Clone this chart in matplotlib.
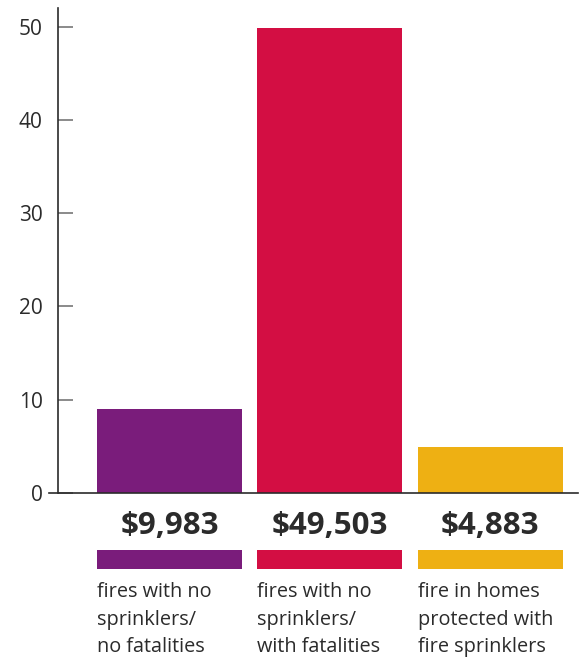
import matplotlib
matplotlib.use("Agg")
import matplotlib.pyplot as plt

plt.rcParams['font.family'] = ['Open Sans', 'DejaVu Sans']

categories = ["fires with no\nsprinklers/\nno fatalities",
              "fires with no\nsprinklers/\nwith fatalities",
              "fire in homes\nprotected with\nfire sprinklers"]
values = [9.0, 49.9, 4.9]
cost_labels = ["$9,983", "$49,503", "$4,883"]
colors = ["#7a1c7b", "#d30e43", "#eeb013"]
yticks = [0, 10, 20, 30, 40, 50]

text_color = "#2b2b2b"

fig = plt.figure(figsize=(5.8, 6.58), dpi=100)
ax = fig.add_axes([0.1, 0.2508, 0.897, 0.737])

x = range(len(values))
width = 0.906
ax.bar(x, values, width=width, color=colors, zorder=2)

ax.set_xlim(-0.697, 2.55)
ax.set_ylim(0, 52)

ax.spines['top'].set_visible(False)
ax.spines['right'].set_visible(False)
ax.spines['bottom'].set_visible(False)
ax.spines['left'].set_color(text_color)
ax.spines['left'].set_linewidth(1.2)

ax.set_xticks([])
ax.set_yticks(yticks)
ax.set_yticklabels([str(t) for t in yticks], fontsize=15, color=text_color,
                   fontweight='medium')
ax.tick_params(axis='y', direction='in', length=11, width=1.2,
               color="#777777", pad=11)

# baseline extending slightly left of spine
ax.axhline(0, xmin=-0.017, xmax=1.0, color=text_color, linewidth=1.2,
           clip_on=False, zorder=3)

# cost labels, colour strips and category text below the axis
for i, (lab, col, cat) in enumerate(zip(cost_labels, colors, categories)):
    ax.text(i, -3.55, lab, ha='center', va='center', fontsize=22.5,
            fontweight='bold', color=text_color, clip_on=False)
    ax.bar(i, 2.05, bottom=-8.15, width=width, color=col, clip_on=False)
    ax.text(i - width / 2, -9.55, cat, ha='left', va='top', fontsize=14.3,
            color=text_color, linespacing=1.5, clip_on=False)

fig.savefig("out.png", dpi=100)
